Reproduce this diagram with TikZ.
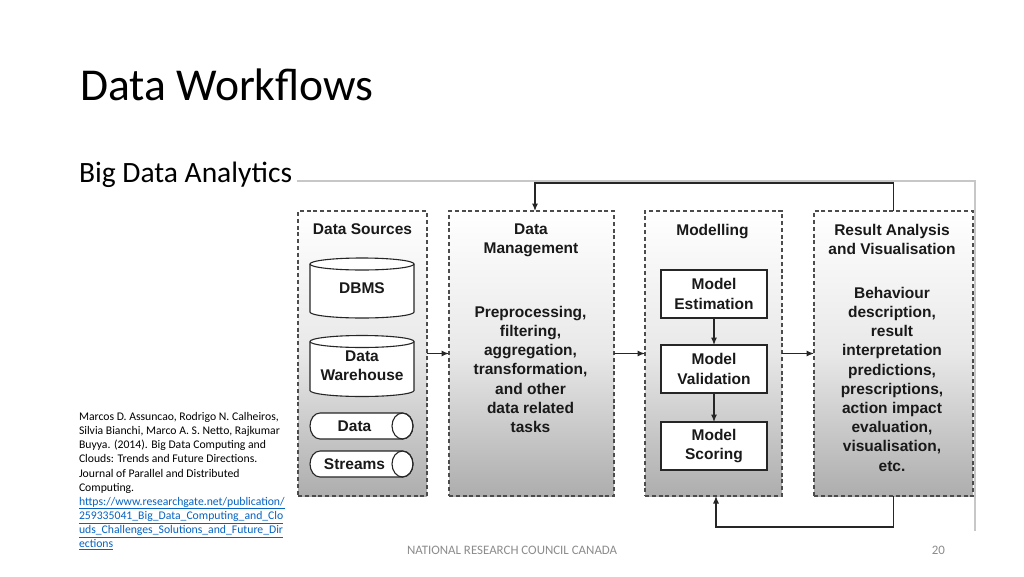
\documentclass[tikz,border=0pt]{standalone}
\usepackage{fontspec}
\setmainfont{Carlito}
\newfontfamily\diafont{Liberation Sans}
\usetikzlibrary{arrows.meta}
\pgfdeclarelayer{back}
\pgfdeclarelayer{mid}
\pgfsetlayers{back,mid,main}
\definecolor{linkblue}{RGB}{5,99,193}
\begin{document}
\begin{tikzpicture}[x=1pt,y=-1pt,
  every node/.style={inner sep=0pt, outer sep=0pt},
  cont/.style={draw=black!70, line width=1.1pt, dash pattern=on 4pt off 2.8pt,
    top color=white, bottom color=black!32, middle color=black!9, minimum height=285pt},
  dtext/.style={font=\diafont\bfseries\fontsize{15.5}{19.2}\selectfont, text=black!90, align=center},
  mbox/.style={draw=black!85, line width=1.1pt, fill=white, minimum width=106pt, minimum height=48pt, dtext},
  arr/.style={draw=black!85, line width=1.1pt, -{Latex[length=7.5pt,width=6pt]}},
  cyl/.style={dtext},
  cylline/.style={draw=black!85, line width=1.1pt, fill=white},
]
\useasboundingbox (0,0) rectangle (1024,576);
\begin{pgfonlayer}{back}
\fill[white] (0,0) rectangle (1024,576);
\end{pgfonlayer}

% slide texts
\node[anchor=base west, font=\fontsize{45.6}{46}\selectfont] (title) at (80,100) {Data Workflows};
\node[anchor=base west, font=\fontsize{29.5}{30}\selectfont] (sub) at (79,182) {Big Data Analytics};
\node[anchor=north west, align=left, font=\fontsize{11.7}{14.1}\selectfont] (cite) at (79,412.5)
 {Marcos D. Assuncao, Rodrigo N. Calheiros,\\
  Silvia Bianchi, Marco A. S. Netto, Rajkumar\\
  Buyya. (2014). Big Data Computing and\\
  Clouds: Trends and Future Directions.\\
  Journal of Parallel and Distributed\\
  Computing.\\
  \textcolor{linkblue}{\underline{https://www.researchgate.net/publication/}}\\
  \textcolor{linkblue}{\underline{259335041\_Big\_Data\_Computing\_and\_Clo}}\\
  \textcolor{linkblue}{\underline{uds\_Challenges\_Solutions\_and\_Future\_Dir}}\\
  \textcolor{linkblue}{\underline{ections}}};
\node[anchor=base west, font=\fontsize{12.9}{13}\selectfont, text=black!45] (foot) at (407,554) {NATIONAL RESEARCH COUNCIL CANADA};
\node[anchor=base east, font=\fontsize{12.9}{13}\selectfont, text=black!45] (page) at (945,554) {20};

% frame of the picture
\draw[black!22, line width=1.3pt] (297,181) -- (975,181) -- (975,531);

% containers
\begin{pgfonlayer}{back}
\node[cont, minimum width=129pt] (ds) at (362.5,353.5) {};
\node[cont, minimum width=165pt] (dm) at (531.5,353.5) {};
\node[cont, minimum width=137pt] (mo) at (713.5,353.5) {};
\node[cont, minimum width=159pt] (ra) at (893.5,353.5) {};
\end{pgfonlayer}

\node[dtext, anchor=north] (dst) at (362.5,224) {Data Sources};
\node[dtext, anchor=north] (dmt) at (531,224) {Data\\Management};
\node[dtext, anchor=north] (mot) at (712.5,224) {Modelling};
\node[dtext, anchor=north] (rat) at (892,224) {Result Analysis\\and Visualisation};
\node[dtext, anchor=north] (dmb) at (530.5,306) {Preprocessing,\\filtering,\\aggregation,\\transformation,\\and other\\data related\\tasks};
\node[dtext, anchor=north] (rab) at (892,287) {Behaviour\\description,\\result\\interpretation\\predictions,\\prescriptions,\\action impact\\evaluation,\\visualisation,\\etc.};

% data sources
\node[cyl, minimum width=104pt, minimum height=60pt] (dbms) at (362,288) {DBMS};
\node[cyl, minimum width=104pt, minimum height=61pt] (dw) at (362,366) {Data\\Warehouse};
\node[cyl, minimum width=89pt, minimum height=26pt] (dat) at (354.5,426) {Data};
\node[cyl, minimum width=89pt, minimum height=26pt] (str) at (354.5,464) {Streams};
\begin{pgfonlayer}{mid}
\foreach \n in {dbms,dw}{
  \draw[cylline] ([yshift=-6pt]\n.north west) -- ([yshift=6pt]\n.south west)
    arc[start angle=180,end angle=360,x radius=52pt,y radius=6pt]
    -- ([yshift=-6pt]\n.north east)
    arc[start angle=0,end angle=180,x radius=52pt,y radius=6pt] -- cycle;
  \draw[cylline, fill=none] ([yshift=-6pt]\n.north west)
    arc[start angle=180,end angle=360,x radius=52pt,y radius=6pt];
}
\foreach \n in {dat,str}{
  \draw[cylline] ([xshift=10pt]\n.north west) -- ([xshift=3.5pt]\n.north east)
    arc[start angle=90,end angle=-90,x radius=10.5pt,y radius=13pt]
    -- ([xshift=10pt]\n.south west)
    arc[start angle=270,end angle=90,x radius=10pt,y radius=13pt] -- cycle;
  \draw[cylline, fill=none] ([xshift=3.5pt]\n.east) ellipse[x radius=10.5pt,y radius=13pt];
}
\end{pgfonlayer}

% modelling
\node[mbox] (me) at (714,294) {Model\\Estimation};
\node[mbox] (mv) at (714,369) {Model\\Validation};
\node[mbox] (ms) at (714,446) {Model\\Scoring};
\draw[arr] (me) -- (mv);
\draw[arr] (mv) -- (ms);

% flow
\draw[arr] (ds) -- (dm);
\draw[arr] (dm) -- (mo);
\draw[arr] (mo) -- (ra);
\coordinate (fa) at (535,183);
\draw[arr] (ra.north) |- (fa) -- (fa |- dm.north);
\coordinate (fb) at (716,527);
\draw[arr] (ra.south) |- (fb) -- (fb |- mo.south);
\end{tikzpicture}
\end{document}
